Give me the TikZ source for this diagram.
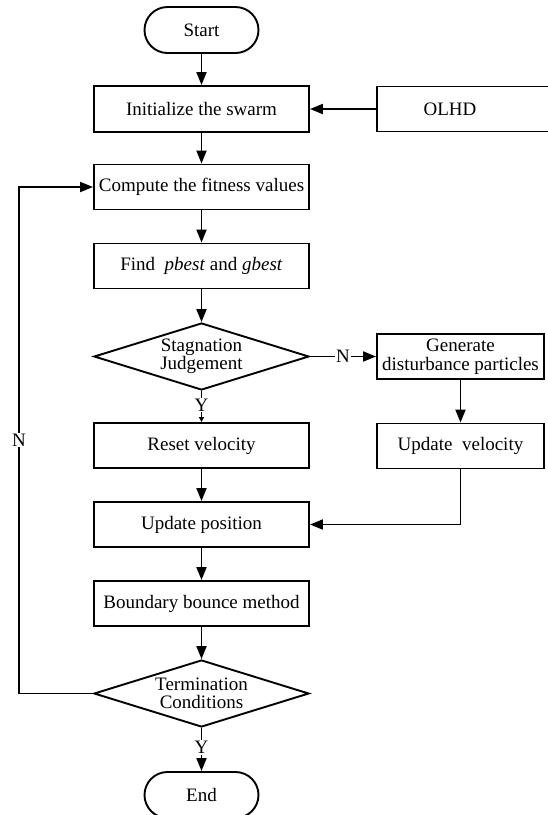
\documentclass[tikz,border=0pt]{standalone}
\usepackage{fontspec}
\setmainfont{Liberation Serif}
\usetikzlibrary{shapes.geometric,arrows.meta}
\tikzset{
  base/.style={draw, line width=1.9pt, font=\fontsize{19}{18.5}\selectfont, inner sep=0pt, align=center},
  procbox/.style={base, rectangle, minimum width=215pt, minimum height=45pt},
  sidebox/.style={base, rectangle, minimum width=167pt, minimum height=45pt},
  termbox/.style={base, rectangle, rounded corners=23pt, minimum width=114pt, minimum height=46pt},
  decbox/.style={base, diamond, shape aspect=3.2, minimum width=215pt, minimum height=67pt},
  conn/.style={line width=1.9pt, -{Triangle[length=13pt,width=10pt]}},
  smallconn/.style={line width=1.9pt, -{Triangle[length=5pt,width=5pt]}},
  lab/.style={fill=white, inner sep=1pt, font=\fontsize{19}{19}\selectfont},
}
\begin{document}
\begin{tikzpicture}[x=1pt,y=-1pt]
\useasboundingbox (0,0) rectangle (547,815);
\node[termbox] (start) at (201.5,30) {Start};
\node[procbox, minimum height=46pt] (init) at (201.5,109) {Initialize the swarm};
\node[base, rectangle, minimum width=183pt, minimum height=45pt] (olhd) at (468.5,109) {OLHD\hspace*{37pt}};
\node[procbox] (comp) at (201.5,187) {Compute the fitness values};
\node[procbox] (find) at (201.5,266) {Find~ \textit{pbest} and \textit{gbest}};
\node[decbox] (stag) at (201.5,356.5) {Stagnation\\Judgement};
\node[sidebox] (gen) at (460.5,356.5) {Generate\\disturbance particles};
\node[procbox] (reset) at (201.5,445.5) {Reset velocity};
\node[sidebox] (uvel) at (460.5,446) {Update~ velocity};
\node[procbox] (upos) at (201.5,524.5) {Update position};
\node[procbox] (bound) at (201.5,603.5) {Boundary bounce method};
\node[decbox] (term) at (201.5,693.5) {Termination\\Conditions};
\node[termbox] (end) at (201.5,795) {End};

\draw[conn] (start) -- (init);
\draw[conn] (olhd) -- (init);
\draw[conn] (init) -- (comp);
\draw[conn] (comp) -- (find);
\draw[conn] (find) -- (stag);
\draw[conn] (stag) -- node[lab]{N} (gen);
\draw[smallconn] (stag) -- node[lab, pos=0.45]{Y} (reset);
\draw[conn] (gen) -- (uvel);
\draw[conn] (reset) -- (upos);
\draw[conn] (uvel) |- (upos);
\draw[conn] (upos) -- (bound);
\draw[conn] (bound) -- (term);
\draw[conn] (term) -- node[lab, pos=0.45]{Y} (end);
\coordinate (lb) at (19,693.5);
\coordinate (lt) at (19,187);
\draw[conn] (term.west) -- (lb) -- node[lab]{N} (lt) -- (comp.west);
\end{tikzpicture}
\end{document}
